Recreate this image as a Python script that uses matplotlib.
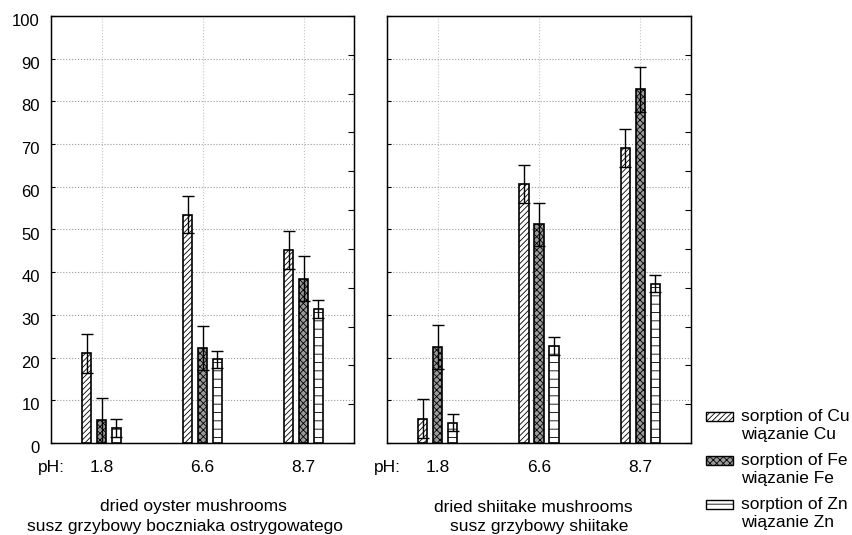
import numpy as np
import matplotlib
matplotlib.use('Agg')
import matplotlib.pyplot as plt
import matplotlib.transforms as mtransforms
from matplotlib.patches import Rectangle

plt.rcParams['font.family'] = ['Liberation Sans', 'DejaVu Sans']
plt.rcParams['font.size'] = 12.5
plt.rcParams['hatch.linewidth'] = 0.6

ph_labels = ['1.8', '6.6', '8.7']
metals = ['Cu', 'Fe', 'Zn']

# sorption [%], oyster mushrooms
oyster_vals = {'Cu': [21.0, 53.5, 45.2], 'Fe': [5.3, 22.3, 38.5], 'Zn': [3.5, 19.6, 31.3]}
oyster_err = {'Cu': [4.5, 4.4, 4.4], 'Fe': [5.2, 5.1, 5.2], 'Zn': [2.1, 2.0, 2.1]}
# sorption [%], shiitake
shiitake_vals = {'Cu': [5.7, 60.7, 69.1], 'Fe': [22.5, 51.2, 82.8], 'Zn': [4.8, 22.7, 37.3]}
shiitake_err = {'Cu': [4.5, 4.4, 4.5], 'Fe': [5.1, 5.1, 5.2], 'Zn': [2.1, 2.1, 2.0]}

titles = [('dried oyster mushrooms', 'susz grzybowy boczniaka ostrygowatego'),
          ('dried shiitake mushrooms', 'susz grzybowy shiitake')]
legend_en = ['sorption of Cu', 'sorption of Fe', 'sorption of Zn']
legend_pl = ['wiązanie Cu', 'wiązanie Fe', 'wiązanie Zn']

styles = {'Cu': dict(facecolor='white', hatch='//////'),
          'Fe': dict(facecolor='#9a9a9a', hatch='xxxxx'),
          'Zn': dict(facecolor='white', hatch='--')}

fig = plt.figure(figsize=(8.52, 5.35), dpi=100)
W, H = 852., 535.
# (left px, right px, data, errors, title centers)
panels = [(51, 354, oyster_vals, oyster_err, (193, 185)),
          (387, 691, shiitake_vals, shiitake_err, (533, 539))]

x = np.arange(3) + 0.5
width = 0.094
offs = {'Cu': -0.148, 'Fe': 0.0, 'Zn': 0.148}
down = mtransforms.ScaledTranslation(0, -4 / 100., fig.dpi_scale_trans)

for i, (left, right, vals, errs, tcx) in enumerate(panels):
    ax = fig.add_axes([left / W, 1 - 443 / H, (right - left) / W, (443 - 16) / H])
    for m in metals:
        ax.bar(x + offs[m], vals[m], width, edgecolor='black', linewidth=1.2,
               zorder=3, **styles[m])
        ax.errorbar(x + offs[m], vals[m], yerr=errs[m], fmt='none', ecolor='black',
                    elinewidth=1.0, capsize=4, capthick=1.0, zorder=4)
    ax.set_xlim(0, 3)
    ax.set_ylim(0, 100)
    ax.set_xticks([0] + list(x))
    ax.set_xticklabels(['pH:'] + ph_labels)
    ax.tick_params(axis='x', length=0, pad=12)
    ax.set_yticks(np.arange(0, 101, 10))
    ax.tick_params(axis='y', direction='in', length=3, pad=8, labelsize=12,
                   labelleft=(i == 0))
    for lab in ax.get_yticklabels():
        lab.set_transform(lab.get_transform() + down)
    ax.yaxis.grid(True, color='#999999', linestyle=':', linewidth=0.8)
    ax.xaxis.grid(True, color='#c4c4c4', linestyle=':', linewidth=0.8)
    ax.set_axisbelow(True)
    for s in ax.spines.values():
        s.set_linewidth(1.0)
    ax2 = ax.twinx()
    ax2.set_ylim(0, 100)
    ax2.set_yticks(np.linspace(0, 100, 12))
    ax2.tick_params(axis='y', direction='in', length=4, labelright=False)
    fig.text(tcx[0] / W, 1 - 507 / H, titles[i][0], ha='center', va='center')
    fig.text(tcx[1] / W, 1 - 527 / H, titles[i][1], ha='center', va='center')

# legend, drawn by hand to match the two-line entries
for k, m in enumerate(metals):
    yc = 416 + 44 * k
    fig.patches.append(Rectangle((706 / W, 1 - (yc + 4.5) / H), 27 / W, 9 / H,
                                 transform=fig.transFigure, edgecolor='black',
                                 linewidth=1.0, **styles[m]))
    fig.text(741 / W, 1 - yc / H, legend_en[k], ha='left', va='center')
    fig.text(741 / W, 1 - (yc + 19) / H, legend_pl[k], ha='left', va='center')

fig.savefig('out.png', dpi=100)
